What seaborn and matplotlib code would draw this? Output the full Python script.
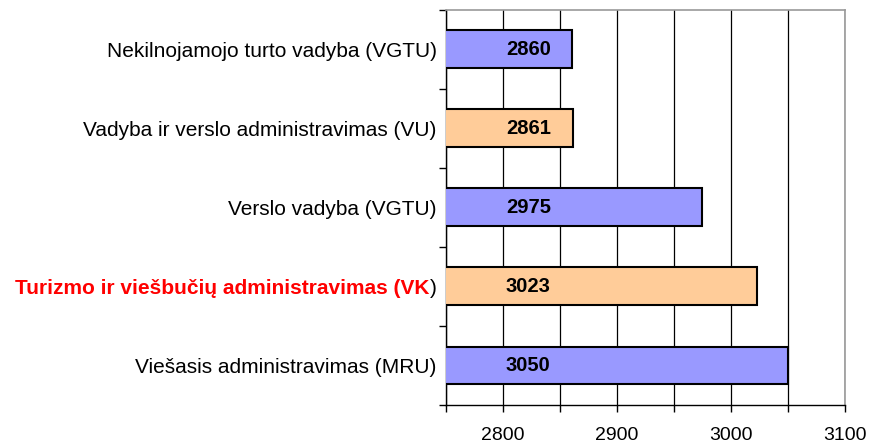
import numpy as np
import pandas as pd
import matplotlib
matplotlib.use('Agg')
import matplotlib.pyplot as plt
import seaborn as sns
from matplotlib.ticker import FixedLocator

programs = ['Nekilnojamojo turto vadyba (VGTU)',
            'Vadyba ir verslo administravimas (VU)',
            'Verslo vadyba (VGTU)',
            'Turizmo ir viešbučių administravimas (VK',
            'Viešasis administravimas (MRU)']
scores = [2860, 2861, 2975, 3023, 3050]
bar_colors = ['#9999FF', '#FFCC99', '#9999FF', '#FFCC99', '#9999FF']
highlight = 3

df = pd.DataFrame({'program': programs, 'score': scores})

sns.set_style('white')
plt.rcParams['font.family'] = ['Liberation Sans', 'DejaVu Sans']

fig = plt.figure(figsize=(8.7, 4.47), dpi=100)
ax = fig.add_axes([0.513, 0.094, 0.458, 0.884])

sns.barplot(data=df, x='score', y='program', hue='program', palette=bar_colors,
            orient='h', width=0.48, edgecolor='black', linewidth=1.5,
            saturation=1, legend=False, ax=ax, zorder=3)

ax.set_xlim(2750, 3100)
ax.set_ylim(4.5, -0.5)
ax.set_xticks([2750, 2800, 2850, 2900, 2950, 3000, 3050, 3100])
ax.set_xticklabels(['', '2800', '', '2900', '', '3000', '', '3100'], fontsize=14, color='black')
ax.tick_params(axis='x', bottom=True, direction='out', length=5, width=1, pad=11, color='black')
ax.grid(axis='x', color='black', linewidth=0.9, zorder=0)
ax.set_axisbelow(True)

# y labels, ticks at category boundaries
ax.yaxis.set_minor_locator(FixedLocator(np.arange(-0.5, 5, 1)))
ax.tick_params(axis='y', which='minor', left=True, direction='out', length=5, width=1, color='black')
ax.tick_params(axis='y', which='major', left=False, length=0, pad=7)
labels = list(programs)
labels[highlight] = ')'
ax.set_yticks(range(len(programs)))
ax.set_yticklabels(labels, fontsize=15, color='black')
red_tl = ax.get_yticklabels()[highlight]
ax.annotate(programs[highlight], xy=(0, 0.5), xycoords=red_tl, ha='right', va='center',
            fontsize=15, color='red', fontweight='bold')

ax.set_xlabel('')
ax.set_ylabel('')

for i, v in enumerate(scores):
    ax.text(2822, i, str(v), ha='center', va='center', fontsize=14.5,
            fontweight='bold', color='black', zorder=4)

for s in ['left', 'bottom']:
    ax.spines[s].set_color('black')
    ax.spines[s].set_linewidth(1)
for s in ['top', 'right']:
    ax.spines[s].set_color('#999999')
    ax.spines[s].set_linewidth(1.2)

fig.savefig('out.png', dpi=100)
